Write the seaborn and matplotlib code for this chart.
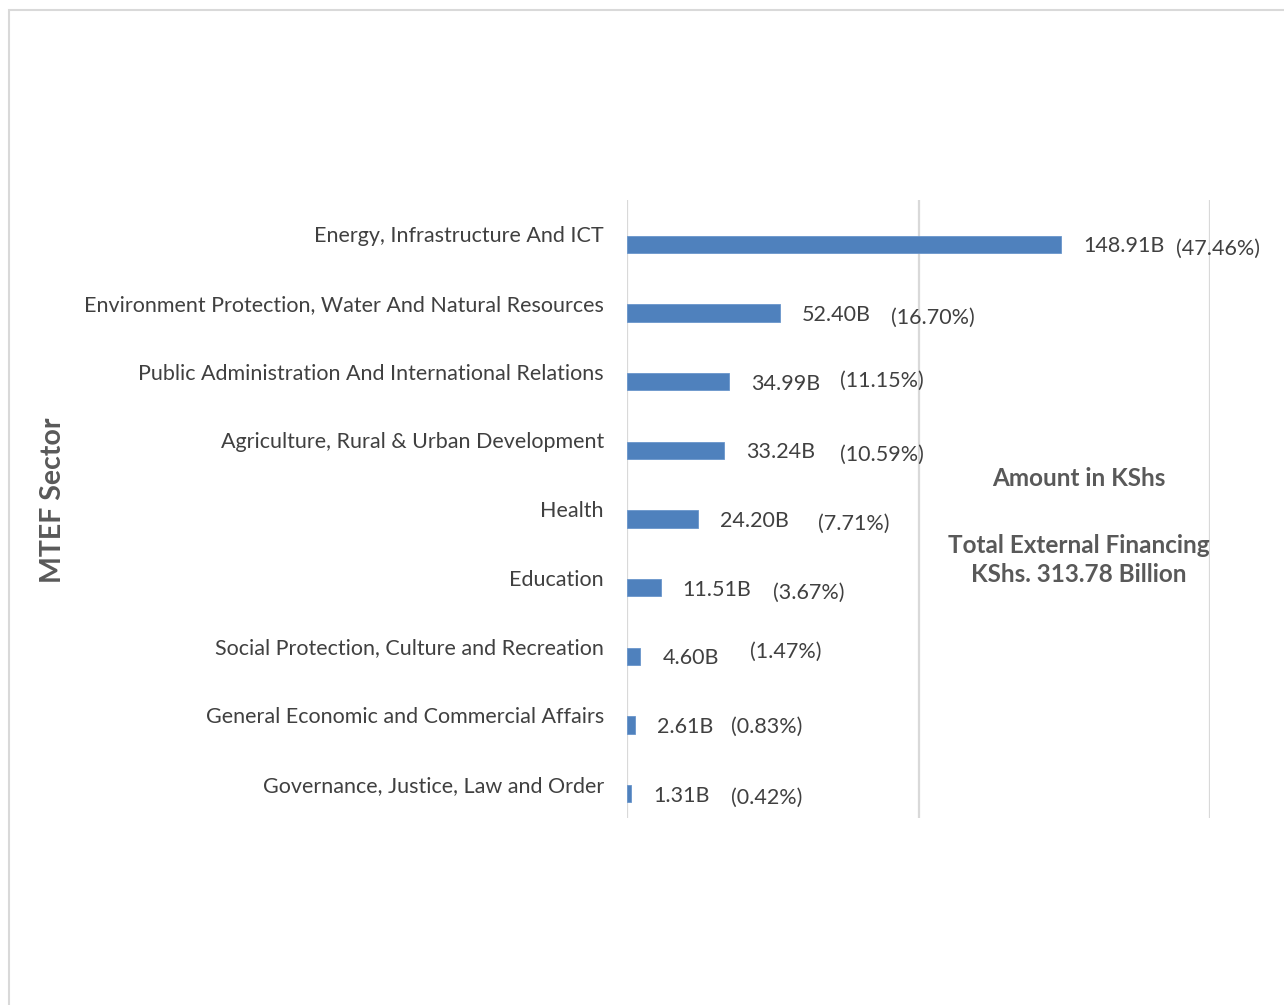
import numpy as np
import pandas as pd
import seaborn as sns
import matplotlib.pyplot as plt
from matplotlib.patches import Rectangle

# --- data ---
sectors = [
    "Energy, Infrastructure And ICT",
    "Environment Protection, Water And Natural Resources",
    "Public Administration And International Relations",
    "Agriculture, Rural & Urban Development",
    "Health",
    "Education",
    "Social Protection, Culture and Recreation",
    "General Economic and Commercial Affairs",
    "Governance, Justice, Law and Order",
]
amounts = [148.91, 52.40, 34.99, 33.24, 24.20, 11.51, 4.60, 2.61, 1.31]
shares = [47.46, 16.70, 11.15, 10.59, 7.71, 3.67, 1.47, 0.83, 0.42]

# manual nudges of the percentage labels (pixels: gap after value label, vertical shift)
pct_gap = [12, 20, 20, 25, 30, 22, 31, 18, 22]
pct_dy = [3, 3, -3, 3, 3, 3, -6, 0, 2]

W, H = 1284, 1005
DPI = 100
px = 72 / DPI  # points per pixel
FS = 15.5

sns.set_theme(style="white")
plt.rcParams["font.family"] = ["Lato", "DejaVu Sans"]

df = pd.DataFrame({"sector": sectors, "amount": amounts, "share": shares})
df["pos"] = np.arange(len(df)) + 0.146  # bars sit slightly below their labels

fig = plt.figure(figsize=(W / DPI, H / DPI), dpi=DPI)
ax = fig.add_axes([627 / W, 1 - 818 / H, (1210 - 627) / W, (818 - 200) / H])

sns.barplot(data=df, x="amount", y="pos", orient="h", native_scale=True,
            width=0.25, color="#4F81BD", saturation=1, errorbar=None,
            edgecolor="#6A96CC", linewidth=0.6, ax=ax)

ax.set_xlim(0, 200)
ax.set_ylim(len(df) - 0.5, -0.5)
ax.set_xticks([0, 100, 200])
ax.set_xticklabels([])
ax.grid(axis="x", color="#D9D9D9", lw=1.6)
ax.grid(axis="y", visible=False)
ax.set_yticks(np.arange(len(df)))
ax.set_yticklabels(sectors, fontsize=FS, color="#404040")
ax.tick_params(axis="both", length=0)
ax.tick_params(axis="y", pad=23 * px)
ax.set_xlabel("")
ax.set_ylabel("")
for s in ax.spines.values():
    s.set_visible(False)

# value and percentage labels
for i, row in df.iterrows():
    t = ax.annotate(f"{row.amount:.2f}B", xy=(row.amount, row.pos),
                    xytext=(22 * px, -2 * px), textcoords="offset points",
                    ha="left", va="center", fontsize=FS, color="#404040")
    ax.annotate(f"({row.share:.2f}%)", xy=(1, 0.5), xycoords=t,
                xytext=(pct_gap[i] * px, -pct_dy[i] * px), textcoords="offset points",
                ha="left", va="center", fontsize=FS, color="#404040")

fig.text(53 / W, 1 - 500 / H, "MTEF Sector", rotation=90, ha="center", va="center",
         fontsize=20.5, fontweight="bold", color="#595959")
fig.text(1079 / W, 1 - 478 / H, "Amount in KShs", ha="center", va="center",
         fontsize=17.5, fontweight="bold", color="#595959")
fig.text(1079 / W, 1 - 560 / H, "Total External Financing\nKShs. 313.78 Billion",
         ha="center", va="center", fontsize=17.5, fontweight="bold",
         color="#595959", linespacing=1.35)

# chart-area border (right and bottom fall outside the canvas)
fig.patches.append(Rectangle((9 / W, -0.05), 1.0, 1.05 - 10 / H, transform=fig.transFigure,
                             fill=False, ec="#D9D9D9", lw=1.5))

fig.savefig("out.png", dpi=DPI)
